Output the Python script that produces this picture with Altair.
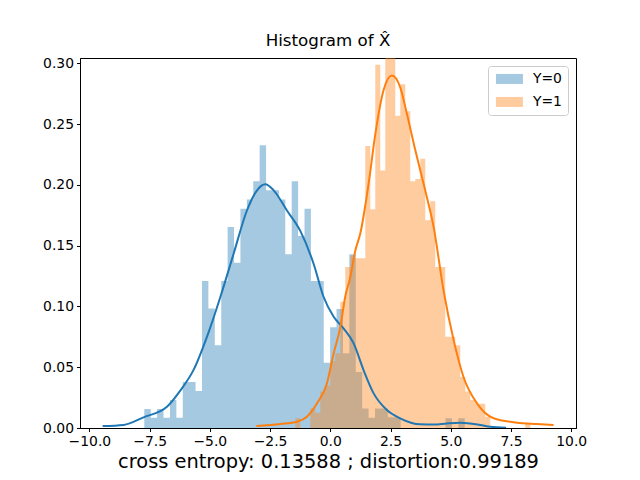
import altair as alt
import pandas as pd

# ---------------- data ----------------
blue_start = -7.72
blue_width = 0.266
blue_heights = [0.0156, 0.0085, 0.0156, 0.0085, 0.023, 0.0085, 0.0378, 0.0378, 0.0304, 0.121,
                0.0984, 0.068, 0.121, 0.1655, 0.136, 0.1805, 0.188, 0.203, 0.2326, 0.1956,
                0.1956, 0.188, 0.143, 0.203, 0.158, 0.1805, 0.121, 0.121, 0.0537, 0.083,
                0.098, 0.0616, 0.143, 0.046, 0.016, 0.0085, 0.016, 0.016, 0.0088, 0.0088,
                0, 0, 0, 0, 0, 0, 0, 0.008, 0, 0.008]

orange_start = -1.452
orange_width = 0.2075
orange_heights = [0.008, 0, 0, 0.016, 0.0126, 0.030, 0.035, 0.055, 0.0616, 0.104,
                  0.1326, 0.142, 0.1397, 0.1397, 0.232, 0.18, 0.299, 0.212, 0.31, 0.31,
                  0.257, 0.283, 0.2606, 0.203, 0.205, 0.2216, 0.171, 0.1866, 0.1326, 0.1326,
                  0.075, 0.075, 0.068, 0.042, 0.030, 0.023, 0.020, 0.020, 0.0093, 0,
                  0, 0, 0, 0, 0, 0, 0.0044]

blue_kde_x = [-9.45, -8.58, -7.75, -6.78, -6.22, -5.67, -5.12, -4.56, -4.01, -3.46, -3.04,
              -2.70, -2.35, -1.80, -1.24, -0.69, -0.28, 0.14, 0.55, 0.97, 1.38, 1.80, 2.35,
              2.90, 3.73, 4.30, 4.84, 5.39, 6.22, 6.64, 7.30]
blue_kde_y = [0.0016, 0.0025, 0.0088, 0.0175, 0.031, 0.048, 0.075, 0.108, 0.1436, 0.179, 0.1956,
              0.2005, 0.1956, 0.179, 0.162, 0.135, 0.108, 0.0915, 0.082, 0.0696, 0.0477, 0.0285, 0.0148,
              0.008, 0.003, 0.0028, 0.0038, 0.0044, 0.0025, 0.001, 0.0002]

orange_kde_x = [-3.07, -2.07, -1.38, -0.97, -0.55, -0.14, 0.14, 0.415, 0.62, 0.83, 1.04, 1.245,
                1.59, 1.87, 2.21, 2.56, 2.90, 3.18, 3.53, 3.94, 4.29, 4.70, 5.12, 5.53, 6.09,
                6.78, 7.75, 8.57, 9.27]
orange_kde_y = [0.0016, 0.0033, 0.0052, 0.0093, 0.0203, 0.0367, 0.0614, 0.083, 0.108, 0.124, 0.146, 0.160,
                0.201, 0.242, 0.278, 0.290, 0.2805, 0.2586, 0.2285, 0.1956, 0.1655, 0.1134, 0.0723, 0.042, 0.0203,
                0.008, 0.0044, 0.0033, 0.0025]

groups = ["Y=0", "Y=1"]
colors = ["#1f77b4", "#ff7f0e"]
x_ticks = [-10.0, -7.5, -5.0, -2.5, 0.0, 2.5, 5.0, 7.5, 10.0]
y_ticks = [0.0, 0.05, 0.10, 0.15, 0.20, 0.25, 0.30]
title_text = "Histogram of X\u0302"
xlabel_text = "cross entropy: 0.13588 ; distortion:0.99189"

# ---------------- tables (step outline of each histogram) ----------------
rows = []
for start, width, heights, grp in [(blue_start, blue_width, blue_heights, groups[0]),
                                   (orange_start, orange_width, orange_heights, groups[1])]:
    for i, h in enumerate(heights):
        rows.append({"x0": start + i * width, "h": h, "grp": grp})
    rows.append({"x0": start + len(heights) * width, "h": heights[-1], "grp": grp})
hist_df = pd.DataFrame(rows)
kde_b = pd.DataFrame({"x0": blue_kde_x, "h": blue_kde_y})
kde_o = pd.DataFrame({"x0": orange_kde_x, "h": orange_kde_y})

FONT = "DejaVu Sans"
xs = alt.Scale(domain=[-10.39, 10.2], nice=False, zero=False, padding=0)
ys = alt.Scale(domain=[0, 0.3045], nice=False, padding=0)
xaxis = alt.Axis(values=x_ticks, format=".1f", title=xlabel_text)
yaxis = alt.Axis(values=y_ticks, format=".2f", title=None)

legend = alt.Legend(
    title=None, orient="top-right", offset=8, padding=6,
    strokeColor="#cccccc", fillColor="white", cornerRadius=3,
    symbolType="M-1,-1H4.4V1H-1Z", symbolSize=100, symbolOpacity=0.4,
    symbolStrokeWidth=0, labelOffset=25, rowPadding=8,
    labelFont=FONT, labelFontSize=13.9, labelColor="black",
)

hist = alt.Chart(hist_df).mark_area(opacity=0.4, interpolate="step-after", clip=True).encode(
    x=alt.X("x0:Q", scale=xs, axis=xaxis),
    y=alt.Y("h:Q", scale=ys, axis=yaxis, stack=None),
    y2=alt.datum(0),
    color=alt.Color("grp:N", scale=alt.Scale(domain=groups, range=colors), legend=legend),
)

line_b = alt.Chart(kde_b).mark_line(color=colors[0], strokeWidth=2, interpolate="monotone", clip=True).encode(
    x=alt.X("x0:Q", scale=xs, axis=xaxis),
    y=alt.Y("h:Q", scale=ys, axis=yaxis),
)
line_o = alt.Chart(kde_o).mark_line(color=colors[1], strokeWidth=2, interpolate="monotone", clip=True).encode(
    x=alt.X("x0:Q", scale=xs, axis=xaxis),
    y=alt.Y("h:Q", scale=ys, axis=yaxis),
)

chart = alt.layer(hist, line_b, line_o).properties(
    width=496, height=370,
    title=alt.TitleParams(title_text, fontSize=16.7, font=FONT, fontWeight="normal",
                          color="black", anchor="middle", frame="group", offset=7),
    padding={"left": 72, "top": 50, "right": 56, "bottom": 44},
    autosize=alt.AutoSizeParams(type="none"),
).configure_view(
    stroke="black", strokeWidth=1
).configure_axis(
    grid=False, domainColor="black", domainWidth=1, tickColor="black", tickWidth=1,
    tickSize=3.5, labelFont=FONT, labelFontSize=13.9, labelColor="black", labelPadding=3,
    titleFont=FONT, titleFontSize=19.4, titleFontWeight="normal", titleColor="black", titlePadding=4,
)

chart.save("out.html", embed_options={"renderer": "svg", "actions": False})
